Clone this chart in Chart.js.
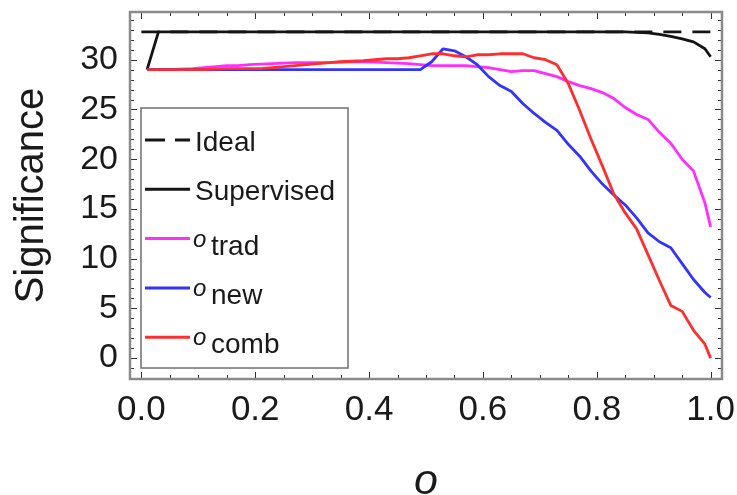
<!DOCTYPE html>
<html>
<head>
<meta charset="utf-8">
<script src="https://cdn.jsdelivr.net/npm/chart.js@4.4.1/dist/chart.umd.min.js"></script>
<style>
html,body{margin:0;padding:0;background:#fff;}
#wrap{width:737px;height:495px;}
</style>
</head>
<body>
<div id="wrap"><canvas id="c" width="737" height="495"></canvas></div>
<script>
// ---- data ----
const oValues = [0.01,0.03,0.05,0.07,0.09,0.11,0.13,0.15,0.17,0.19,0.21,0.23,0.25,0.27,0.29,0.31,0.33,0.35,0.37,0.39,0.41,0.43,0.45,0.47,0.49,
                 0.51,0.53,0.55,0.57,0.59,0.61,0.63,0.65,0.67,0.69,0.71,0.73,0.75,0.77,0.79,0.81,0.83,0.85,0.87,0.89,0.91,0.93,0.95,0.97,0.99,1.00];
const idealO = [0.0, 1.0];
const idealSig = [32.8, 32.8];
const supervisedSig = [29.0,32.8,32.8,32.8,32.8,32.8,32.8,32.8,32.8,32.8,32.8,32.8,32.8,32.8,32.8,32.8,32.8,32.8,32.8,32.8,32.8,32.8,32.8,32.8,32.8,
                       32.8,32.8,32.8,32.8,32.8,32.8,32.8,32.8,32.8,32.8,32.8,32.8,32.8,32.8,32.8,32.8,32.8,32.8,32.75,32.7,32.55,32.35,32.1,31.8,31.1,30.3];
const tradSig = [29.0,29.0,29.0,29.05,29.1,29.2,29.3,29.4,29.4,29.5,29.55,29.6,29.65,29.7,29.7,29.7,29.7,29.75,29.8,29.8,29.75,29.7,29.65,29.6,29.5,
                 29.4,29.4,29.4,29.4,29.3,29.2,29.0,28.8,28.9,28.9,28.6,28.3,27.8,27.4,27.1,26.7,26.1,25.2,24.5,24.0,22.7,21.6,20.0,18.8,15.6,13.2];
const newSig = [29.0,29.0,29.0,29.0,29.0,29.0,29.0,29.0,29.0,29.0,29.0,29.0,29.0,29.0,29.0,29.0,29.0,29.0,29.0,29.0,29.0,29.0,29.0,29.0,29.0,
                29.8,31.1,30.9,30.3,29.5,28.3,27.4,26.8,25.6,24.6,23.7,22.9,21.5,20.3,18.8,17.5,16.4,15.4,14.1,12.6,11.7,11.1,9.5,7.9,6.6,6.1];
const combSig = [29.0,29.0,29.0,29.0,29.0,29.0,29.05,29.1,29.1,29.1,29.1,29.2,29.3,29.4,29.5,29.6,29.7,29.8,29.85,29.9,30.0,30.1,30.1,30.2,30.4,
                 30.6,30.6,30.4,30.3,30.5,30.5,30.6,30.6,30.6,30.2,30.0,29.5,27.6,24.9,22.0,19.3,16.5,14.6,13.0,10.4,7.8,5.3,4.7,2.8,1.4,0.0];
const xTickLabels = [0.0, 0.2, 0.4, 0.6, 0.8, 1.0];
const yTickLabels = [0, 5, 10, 15, 20, 25, 30];
const seriesNames = ['Ideal', 'Supervised', 'o_trad', 'o_new', 'o_comb'];
const seriesColors = ['#141414', '#141414', '#ff2eff', '#3333ff', '#ff2e2e'];

const FONT = "'Liberation Sans', Arial, Helvetica, sans-serif";
const pts = (xs, ys) => xs.map((x, i) => ({x: x, y: ys[i]}));

// ---- frame with inward ticks on all four sides ----
const framePlugin = {
  id: 'frame',
  afterDatasetsDraw(chart) {
    const {ctx, chartArea: a, scales: {x, y}} = chart;
    ctx.save();
    ctx.strokeStyle = '#333';
    ctx.lineWidth = 1;
    const tick = (px, py, dx, dy) => { ctx.beginPath(); ctx.moveTo(px, py); ctx.lineTo(px + dx, py + dy); ctx.stroke(); };
    for (let i = 0; i <= 20; i++) {
      const v = i * 0.05;
      const px = Math.round(x.getPixelForValue(v)) + 0.5;
      const L = (i % 4 === 0) ? 7 : 4;
      tick(px, a.bottom, 0, -L);
      tick(px, a.top, 0, L);
    }
    for (let v = -2; v <= 34; v++) {
      const py = Math.round(y.getPixelForValue(v)) + 0.5;
      const L = (v % 5 === 0) ? 7 : 4;
      tick(a.left, py, L, 0);
      tick(a.right, py, -L, 0);
    }
    ctx.strokeStyle = '#8a8a8a';
    ctx.lineWidth = 2.5;
    ctx.strokeRect(a.left, a.top, a.right - a.left, a.bottom - a.top);
    ctx.restore();
  }
};

// ---- legend box drawn inside the plot ----
const legendPlugin = {
  id: 'boxLegend',
  afterDraw(chart, args, opts) {
    const ctx = chart.ctx;
    ctx.save();
    ctx.fillStyle = '#fff';
    ctx.fillRect(opts.left, opts.top, opts.right - opts.left, opts.bottom - opts.top);
    ctx.strokeStyle = '#6f6f6f';
    ctx.lineWidth = 1.5;
    ctx.strokeRect(opts.left, opts.top, opts.right - opts.left, opts.bottom - opts.top);
    chart.data.datasets.forEach((ds, i) => {
      const cy = opts.firstY + i * opts.step;
      ctx.strokeStyle = ds.borderColor;
      ctx.lineWidth = 3;
      ctx.setLineDash(ds.borderDash ? [20, 10] : []);
      ctx.beginPath();
      ctx.moveTo(opts.lineX0, cy);
      ctx.lineTo(opts.lineX1, cy);
      ctx.stroke();
      ctx.setLineDash([]);
      ctx.fillStyle = '#1a1a1a';
      ctx.textBaseline = 'alphabetic';
      ctx.textAlign = 'left';
      const parts = ds.label.split('_');
      if (parts.length === 1) {
        ctx.font = '28px ' + FONT;
        ctx.fillText(parts[0], opts.textX, cy + 11);
      } else {
        ctx.font = 'italic 24px ' + FONT;
        ctx.fillText(parts[0], opts.textX - 2, cy + 8);
        ctx.font = '28px ' + FONT;
        ctx.fillText(parts[1], opts.textX + 16, cy + 16);
      }
    });
    ctx.restore();
  }
};

const datasets = [
  {label: seriesNames[0], data: pts(idealO, idealSig), borderColor: seriesColors[0], borderDash: [18, 11], order: 5},
  {label: seriesNames[1], data: pts(oValues, supervisedSig), borderColor: seriesColors[1], order: 4},
  {label: seriesNames[2], data: pts(oValues, tradSig), borderColor: seriesColors[2], order: 3},
  {label: seriesNames[3], data: pts(oValues, newSig), borderColor: seriesColors[3], order: 2},
  {label: seriesNames[4], data: pts(oValues, combSig), borderColor: seriesColors[4], order: 1}
];
datasets.forEach(d => { d.borderWidth = 2.8; d.pointRadius = 0; d.fill = false; d.tension = 0; });

new Chart(document.getElementById('c'), {
  type: 'line',
  data: {datasets: datasets},
  options: {
    responsive: false,
    animation: false,
    devicePixelRatio: 1,
    layout: {padding: {top: 12, right: 15, left: 0, bottom: 0}},
    elements: {line: {borderJoinStyle: 'round', borderCapStyle: 'butt'}},
    plugins: {
      legend: {display: false},
      tooltip: {enabled: false},
      boxLegend: {left: 141, top: 108, right: 348, bottom: 368, firstY: 140, step: 49.3, lineX0: 145, lineX1: 190, textX: 195}
    },
    scales: {
      x: {
        type: 'linear', min: -0.02, max: 1.02,
        afterFit(s) { s.height = 116; s.paddingLeft = 0; s.paddingRight = 0; },
        afterBuildTicks(s) { s.ticks = xTickLabels.map(v => ({value: v})); },
        grid: {display: false, drawTicks: false},
        border: {display: false},
        ticks: {color: '#1a1a1a', font: {family: FONT, size: 35}, padding: 10, maxRotation: 0, autoSkip: false,
                callback: v => Number(v).toFixed(1)},
        title: {display: true, text: 'o', color: '#1a1a1a', font: {family: FONT, size: 43, style: 'italic', lineHeight: 0.6}, padding: {top: 0, bottom: 0}}
      },
      y: {
        type: 'linear', min: -2.1, max: 34.8,
        afterFit(s) { s.width = 130; s.paddingTop = 0; s.paddingBottom = 0; },
        afterBuildTicks(s) { s.ticks = yTickLabels.map(v => ({value: v})); },
        grid: {display: false, drawTicks: false},
        border: {display: false},
        ticks: {color: '#1a1a1a', font: {family: FONT, size: 34}, padding: 12, autoSkip: false},
        title: {display: true, text: 'Significance', color: '#1a1a1a', font: {family: FONT, size: 40}, padding: {top: 8, bottom: 0}}
      }
    }
  },
  plugins: [framePlugin, legendPlugin]
});
</script>
</body>
</html>
